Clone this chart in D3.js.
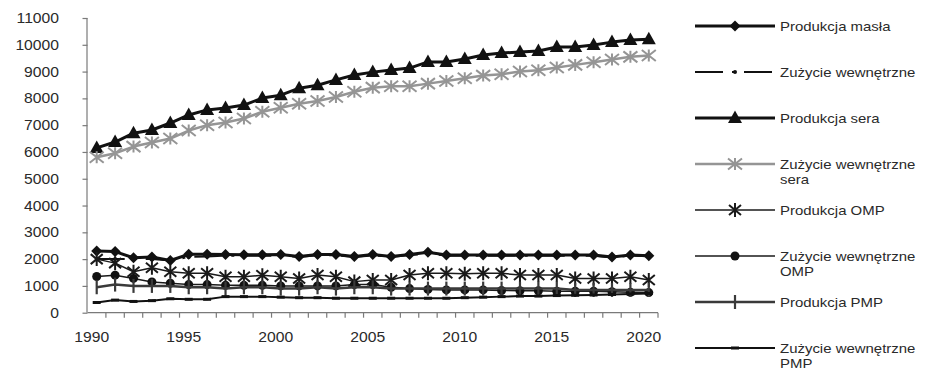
<!DOCTYPE html>
<html>
<head>
<meta charset="utf-8">
<script src="https://cdn.jsdelivr.net/npm/d3@7"></script>
<style>
  html, body { margin: 0; padding: 0; background: #fff; }
  text { font-family: "Liberation Sans", Arial, sans-serif; fill: #2a2a2a; }
</style>
</head>
<body>
<svg id="chart" width="931" height="372"></svg>
<script>
// Years on the category axis
const years = [1990,1991,1992,1993,1994,1995,1996,1997,1998,1999,2000,2001,2002,2003,2004,2005,
               2006,2007,2008,2009,2010,2011,2012,2013,2014,2015,2016,2017,2018,2019,2020];
const xTickLabels = [1990,1995,2000,2005,2010,2015,2020];
const yTickValues = [0,1000,2000,3000,4000,5000,6000,7000,8000,9000,10000,11000];

// Series values (thousand tonnes)
const butterProd = [2300,2280,2050,2080,1950,2180,2180,2170,2160,2160,2170,2100,2170,2170,2100,2170,
                    2100,2170,2260,2150,2150,2150,2150,2150,2150,2150,2150,2150,2080,2150,2130];
const butterCons = [2000,2000,2000,2000,1950,2080,2100,2130,2130,2130,2130,2080,2140,2140,2080,2140,
                    2080,2150,2200,2130,2130,2130,2130,2130,2130,2130,2130,2130,2060,2130,2110];
const cheeseProd = [6150,6370,6700,6820,7080,7380,7570,7640,7750,8010,8120,8380,8490,8690,8870,8980,
                    9060,9130,9360,9360,9470,9620,9690,9730,9770,9920,9920,9990,10100,10180,10210];
const cheeseCons = [5800,5950,6200,6350,6500,6800,7000,7100,7250,7500,7650,7800,7900,8050,8250,8400,
                    8450,8450,8550,8650,8750,8850,8900,9000,9050,9150,9250,9350,9450,9550,9600];
const smpProd    = [2000,1850,1530,1680,1530,1470,1470,1340,1340,1400,1340,1280,1410,1340,1160,1220,
                    1220,1410,1470,1470,1450,1470,1470,1410,1410,1410,1280,1280,1280,1340,1220];
const smpCons    = [1350,1400,1280,1150,1100,1050,1050,1020,1020,1020,1000,1000,1000,1000,1050,1050,
                    950,900,870,850,850,850,830,820,820,800,800,800,780,760,750];
const wmpProd    = [950,1050,1000,1000,1000,950,950,900,950,950,900,900,950,900,950,950,
                    900,900,900,900,900,900,900,900,900,900,850,850,850,850,850];
const wmpCons    = [380,470,420,450,520,500,500,600,600,600,580,560,560,540,540,540,
                    540,540,540,540,560,580,600,620,620,640,650,660,680,700,720];

const seriesNames = ["Produkcja masła", "Zużycie wewnętrzne", "Produkcja sera", "Zużycie wewnętrzne\nsera",
                     "Produkcja OMP", "Zużycie wewnętrzne\nOMP", "Produkcja PMP", "Zużycie wewnętrzne\nPMP"];
const seriesValues = [butterProd, butterCons, cheeseProd, cheeseCons, smpProd, smpCons, wmpProd, wmpCons];

// Drawing style for each series, in the same order
const styles = [
  { stroke: "#111", width: 3,   dash: null,        marker: "diamond",  mcolor: "#111" },
  { stroke: "#111", width: 2,   dash: "28,9,3,9",  marker: "dot",      mcolor: "#111" },
  { stroke: "#111", width: 3,   dash: null,        marker: "triangle", mcolor: "#111" },
  { stroke: "#959595", width: 2.5, dash: null,     marker: "xstar",    mcolor: "#959595" },
  { stroke: "#1a1a1a", width: 1.5, dash: null,     marker: "asterisk", mcolor: "#1a1a1a" },
  { stroke: "#1a1a1a", width: 1.5, dash: null,     marker: "circle",   mcolor: "#111" },
  { stroke: "#3a3a3a", width: 2.5, dash: null,     marker: "vbar",     mcolor: "#3a3a3a" },
  { stroke: "#111", width: 2,   dash: null,        marker: "hdash",    mcolor: "#111" }
];

const svg = d3.select("#chart");
svg.append("rect").attr("width", 931).attr("height", 372).attr("fill", "#fff");

const x = d3.scaleBand().domain(years).range([87.5, 658]).paddingInner(0).paddingOuter(0);
const cx = d => x(d) + x.bandwidth() / 2;
const y = d3.scaleLinear().domain([0, 11000]).range([312.7, 18]);

function stretchedText(g, px, py, txt, anchor, size, sx) {
  return g.append("text")
    .attr("transform", `translate(${px},${py}) scale(${sx},1)`)
    .attr("text-anchor", anchor)
    .style("font-size", size + "px")
    .text(txt);
}

// Axes
const axisColor = "#7a7a7a";
const gy = svg.append("g").attr("transform", "translate(87.5,0)")
  .call(d3.axisLeft(y).tickValues(yTickValues).tickSize(5).tickFormat(""));
const gx = svg.append("g").attr("transform", "translate(0,312.7)")
  .call(d3.axisBottom(x).tickValues([]).tickSizeOuter(0));
[gy, gx].forEach(g => g.selectAll("path, line").attr("stroke", axisColor).attr("stroke-width", 1.2));
gy.select(".domain").attr("d", `M-0.5,${y(11000)}V${y(0)}`);
gx.select(".domain").attr("d", `M87.5,0H658`);
// tick marks on the category boundaries
gx.selectAll(".boundary").data(years.slice(1).concat(["end"])).enter().append("line")
  .attr("x1", d => d === "end" ? 658 : x(d)).attr("x2", d => d === "end" ? 658 : x(d))
  .attr("y1", 0).attr("y2", 5).attr("stroke", axisColor).attr("stroke-width", 1.2);

const labels = svg.append("g");
yTickValues.forEach(v => stretchedText(labels, 59, y(v) + 5, String(v), "end", 14, 1.12));
xTickLabels.forEach(v => stretchedText(labels, cx(v) - 5, 342, String(v), "middle", 14, 1.12));

// Marker shapes
function marker(g, type, color) {
  switch (type) {
    case "diamond":
      return g.append("path").attr("d", "M0,-5.5L5.5,0L0,5.5L-5.5,0Z").attr("fill", color);
    case "dot":
      return g.append("circle").attr("r", 2).attr("fill", color);
    case "triangle":
      return g.append("path").attr("d", "M0,-7.5L7,5L-7,5Z").attr("fill", color);
    case "xstar":
      return g.append("path").attr("d", "M-7,-5.5L7,5.5M-7,5.5L7,-5.5M0,-6L0,6")
        .attr("stroke", color).attr("stroke-width", 2).attr("fill", "none");
    case "asterisk":
      return g.append("path").attr("d", "M-6,-5L6,5M-6,5L6,-5M0,-7L0,7")
        .attr("stroke", color).attr("stroke-width", 2).attr("fill", "none");
    case "circle":
      return g.append("circle").attr("r", 4.5).attr("fill", color);
    case "vbar":
      return g.append("path").attr("d", "M0,-7L0,7")
        .attr("stroke", color).attr("stroke-width", 2.2).attr("fill", "none");
    case "hdash":
      return g.append("path").attr("d", "M-4,0L4,0")
        .attr("stroke", color).attr("stroke-width", 3).attr("fill", "none");
  }
}

// Lines and markers
const line = d3.line().x((d, i) => cx(years[i])).y(d => y(d));
const plot = svg.append("g");
seriesValues.forEach((vals, si) => {
  const st = styles[si];
  const g = plot.append("g");
  g.append("path").attr("d", line(vals)).attr("fill", "none")
    .attr("stroke", st.stroke).attr("stroke-width", st.width)
    .attr("stroke-dasharray", st.dash).attr("stroke-linejoin", "round");
  vals.forEach((v, i) => {
    const m = g.append("g").attr("transform", `translate(${cx(years[i])},${y(v)})`);
    marker(m, st.marker, st.mcolor);
  });
});

// Legend
const legend = svg.append("g");
seriesNames.forEach((name, i) => {
  const st = styles[i];
  const ly = 26 + i * 46;
  legend.append("line").attr("x1", 695).attr("x2", 775).attr("y1", ly).attr("y2", ly)
    .attr("stroke", st.stroke).attr("stroke-width", st.width).attr("stroke-dasharray", st.dash);
  marker(legend.append("g").attr("transform", `translate(735,${ly})`), st.marker, st.mcolor);
  name.split("\n").forEach((part, k) => {
    stretchedText(legend, 780, ly + 4.5 + k * 15, part, "start", 13, 1.15);
  });
});
</script>
</body>
</html>
